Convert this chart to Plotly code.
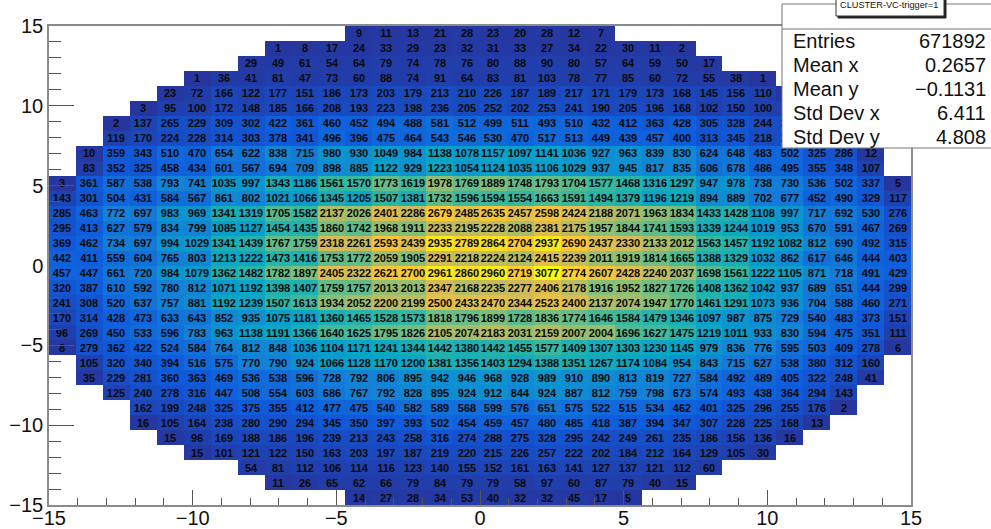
import numpy as np
import plotly.graph_objects as go

N_BINS = 32
AXIS_MIN, AXIS_MAX = -15.0, 15.0

# Each row listed top to bottom: first occupied column, then cell counts.
ROW_STARTS = [11, 8, 7, 5, 4, 3, 2, 2, 1, 1, 0, 0, 0, 0, 0, 0, 0, 0, 0, 0, 0, 0, 1, 1, 2, 3, 3, 4, 5, 7, 8, 11]

ROW_00 = [9, 11, 13, 21, 28, 23, 20, 28, 12, 7]
ROW_01 = [1, 8, 17, 24, 33, 29, 23, 32, 31, 33, 27, 34, 22, 30, 11, 2]
ROW_02 = [29, 49, 61, 54, 64, 79, 74, 78, 76, 80, 88, 90, 80, 57, 64, 59, 50, 17]
ROW_03 = [1, 36, 41, 81, 47, 73, 60, 88, 74, 91, 64, 83, 81, 103, 78, 77, 85, 60, 72, 55, 38, 1]
# the last cells of rows 4-7 sit behind the statistics box: estimated
ROW_04 = [23, 72, 166, 122, 177, 151, 186, 173, 203, 179, 213, 210, 226, 187, 189, 217, 171, 179, 173, 168, 145, 156, 110, 20]
ROW_05 = [3, 95, 100, 172, 148, 185, 166, 208, 193, 223, 198, 236, 205, 252, 202, 253, 241, 190, 205, 196, 168, 102, 150, 100, 90, 3]
ROW_06 = [2, 137, 265, 229, 309, 302, 422, 361, 460, 452, 494, 488, 581, 512, 499, 511, 493, 510, 432, 412, 363, 428, 305, 328, 244, 230, 130, 2]
ROW_07 = [119, 170, 224, 228, 314, 303, 378, 341, 496, 396, 475, 464, 543, 546, 530, 470, 517, 513, 449, 439, 457, 400, 313, 345, 218, 240, 120, 100]
ROW_08 = [10, 359, 343, 510, 470, 654, 622, 838, 715, 980, 930, 1049, 984, 1138, 1078, 1157, 1097, 1141, 1036, 927, 963, 839, 830, 624, 648, 483, 502, 325, 286, 12]
ROW_09 = [83, 352, 325, 458, 434, 601, 567, 694, 709, 898, 885, 1122, 929, 1223, 1054, 1124, 1035, 1106, 1029, 937, 945, 817, 835, 606, 678, 486, 495, 355, 348, 107]
ROW_10 = [3, 361, 587, 538, 793, 741, 1035, 997, 1343, 1186, 1561, 1570, 1773, 1619, 1978, 1769, 1889, 1748, 1793, 1704, 1577, 1468, 1316, 1297, 947, 978, 738, 730, 536, 502, 337, 5]
ROW_11 = [143, 301, 504, 431, 584, 567, 861, 802, 1021, 1066, 1345, 1205, 1507, 1381, 1732, 1596, 1594, 1554, 1663, 1591, 1494, 1379, 1196, 1219, 894, 889, 702, 677, 452, 490, 329, 117]
ROW_12 = [285, 463, 772, 697, 983, 969, 1341, 1319, 1705, 1582, 2137, 2026, 2401, 2286, 2679, 2485, 2635, 2457, 2598, 2424, 2188, 2071, 1963, 1834, 1433, 1428, 1108, 997, 717, 692, 530, 276]
ROW_13 = [295, 413, 627, 579, 834, 799, 1085, 1127, 1454, 1435, 1860, 1742, 1968, 1911, 2233, 2195, 2228, 2088, 2381, 2175, 1957, 1844, 1741, 1593, 1339, 1244, 1019, 953, 670, 591, 467, 269]
ROW_14 = [369, 462, 734, 697, 994, 1029, 1341, 1439, 1767, 1759, 2318, 2261, 2593, 2439, 2935, 2789, 2864, 2704, 2937, 2690, 2437, 2330, 2133, 2012, 1563, 1457, 1192, 1082, 812, 690, 492, 315]
ROW_15 = [442, 411, 559, 604, 765, 803, 1213, 1222, 1473, 1416, 1753, 1772, 2059, 1905, 2291, 2218, 2224, 2124, 2415, 2239, 2011, 1919, 1814, 1665, 1388, 1329, 1032, 862, 617, 646, 444, 403]
ROW_16 = [457, 447, 661, 720, 984, 1079, 1362, 1482, 1782, 1897, 2405, 2322, 2621, 2700, 2961, 2860, 2960, 2719, 3077, 2774, 2607, 2428, 2240, 2037, 1698, 1561, 1222, 1105, 871, 718, 491, 429]
ROW_17 = [320, 387, 610, 592, 780, 812, 1071, 1192, 1398, 1407, 1759, 1757, 2013, 2013, 2347, 2168, 2235, 2277, 2406, 2178, 1916, 1952, 1827, 1726, 1408, 1362, 1042, 937, 689, 651, 444, 299]
ROW_18 = [241, 308, 520, 637, 757, 881, 1192, 1239, 1507, 1613, 1934, 2052, 2200, 2199, 2500, 2433, 2470, 2344, 2523, 2400, 2137, 2074, 1947, 1770, 1461, 1291, 1073, 936, 704, 588, 460, 271]
ROW_19 = [170, 314, 428, 473, 633, 643, 852, 935, 1075, 1181, 1360, 1465, 1528, 1573, 1818, 1796, 1899, 1728, 1836, 1774, 1646, 1584, 1479, 1346, 1097, 987, 875, 729, 540, 483, 373, 151]
ROW_20 = [96, 269, 450, 533, 596, 783, 963, 1138, 1191, 1366, 1640, 1625, 1795, 1826, 2105, 2074, 2183, 2031, 2159, 2007, 2004, 1696, 1627, 1475, 1219, 1011, 933, 830, 594, 475, 351, 111]
ROW_21 = [8, 279, 362, 422, 524, 584, 764, 812, 848, 1036, 1104, 1171, 1241, 1344, 1442, 1380, 1442, 1455, 1577, 1409, 1307, 1303, 1230, 1145, 979, 836, 776, 595, 503, 409, 278, 6]
ROW_22 = [105, 320, 340, 394, 516, 575, 770, 790, 924, 1066, 1128, 1170, 1200, 1381, 1356, 1403, 1294, 1388, 1351, 1267, 1174, 1084, 954, 843, 715, 627, 538, 380, 312, 160]
ROW_23 = [35, 229, 281, 360, 363, 469, 536, 538, 596, 728, 792, 806, 895, 942, 946, 968, 928, 989, 910, 890, 813, 819, 727, 584, 492, 489, 405, 322, 248, 41]
ROW_24 = [125, 240, 278, 316, 447, 508, 554, 603, 686, 767, 792, 828, 895, 924, 912, 844, 924, 887, 812, 759, 798, 673, 574, 493, 438, 364, 294, 143]
ROW_25 = [162, 199, 248, 325, 375, 355, 412, 477, 475, 540, 582, 589, 568, 599, 576, 651, 575, 522, 515, 534, 462, 401, 325, 296, 255, 176, 2]
ROW_26 = [16, 105, 164, 238, 280, 290, 294, 345, 350, 397, 393, 502, 454, 459, 457, 480, 485, 418, 387, 394, 347, 307, 228, 225, 168, 13]
ROW_27 = [15, 96, 169, 188, 186, 196, 239, 213, 243, 258, 316, 274, 288, 275, 328, 295, 242, 249, 261, 235, 186, 156, 136, 16]
ROW_28 = [15, 101, 121, 122, 150, 163, 203, 197, 187, 219, 220, 215, 226, 257, 222, 202, 184, 212, 164, 129, 105, 30]
ROW_29 = [54, 81, 112, 106, 114, 116, 123, 140, 155, 152, 161, 163, 141, 127, 137, 121, 112, 60]
ROW_30 = [11, 26, 65, 62, 66, 79, 84, 79, 79, 58, 97, 60, 87, 79, 40, 15]
ROW_31 = [14, 27, 28, 34, 53, 40, 32, 32, 45, 17, 5]

ROWS = [ROW_00, ROW_01, ROW_02, ROW_03, ROW_04, ROW_05, ROW_06, ROW_07,
        ROW_08, ROW_09, ROW_10, ROW_11, ROW_12, ROW_13, ROW_14, ROW_15,
        ROW_16, ROW_17, ROW_18, ROW_19, ROW_20, ROW_21, ROW_22, ROW_23,
        ROW_24, ROW_25, ROW_26, ROW_27, ROW_28, ROW_29, ROW_30, ROW_31]

STAT_NAMES = ["Entries", "Mean x", "Mean y", "Std Dev x", "Std Dev y"]
STAT_VALUES = ["671892", "0.2657", "\u22120.1131", "6.411", "4.808"]
STAT_TITLE = "CLUSTER-VC-trigger=1"

# ROOT kBird-like palette, low end adjusted to the blue seen in the picture
BIRD_R = [0.1500, 0.0592, 0.0780, 0.0232, 0.1802, 0.5301, 0.8186, 0.9956, 0.9764]
BIRD_G = [0.2100, 0.3599, 0.5041, 0.6419, 0.7178, 0.7492, 0.7328, 0.7862, 0.9832]
BIRD_B = [0.6200, 0.8684, 0.8385, 0.7914, 0.6425, 0.4662, 0.3499, 0.1968, 0.0539]
colorscale = [[i / 8, f"rgb({r*255:.0f},{g*255:.0f},{b*255:.0f})"]
              for i, (r, g, b) in enumerate(zip(BIRD_R, BIRD_G, BIRD_B))]

grid = np.full((N_BINS, N_BINS), np.nan)
for r, (start, row) in enumerate(zip(ROW_STARTS, ROWS)):
    grid[N_BINS - 1 - r, start:start + len(row)] = row

dx = (AXIS_MAX - AXIS_MIN) / N_BINS
fig = go.Figure(go.Heatmap(
    z=grid, x0=AXIS_MIN + dx / 2, dx=dx, y0=AXIS_MIN + dx / 2, dy=dx,
    colorscale=colorscale, zmin=0, zmax=3077, showscale=False,
    texttemplate="%{z}", hoverongaps=False,
    textfont=dict(family="Liberation Sans", size=11, color="#0a0a0a", weight=700),
))

W, H = 991, 529
L, R, T, B = 49, 911, 26, 505


def px(x):
    return (x - L) / (R - L)


def py(y):
    return (B - y) / (B - T)


AX = "#8a8a8a"
TICK_FONT = dict(family="Liberation Sans", size=20, color="#111111")
common = dict(range=[AXIS_MIN, AXIS_MAX], dtick=5, tick0=0, ticks="inside", automargin=False,
              showgrid=False, zeroline=False, showline=True, linecolor=AX,
              linewidth=1.5, mirror=True, tickcolor="#555555", tickwidth=1,
              tickfont=TICK_FONT)
fig.update_xaxes(**common, ticklen=15, ticklabelstandoff=-6,
                 minor=dict(dtick=1, tick0=0, ticks="inside", ticklen=7,
                            tickcolor="#555555", tickwidth=1, showgrid=False))
fig.update_yaxes(**common, ticklen=25,
                 minor=dict(dtick=1, tick0=0, ticks="inside", ticklen=12,
                            tickcolor="#555555", tickwidth=1, showgrid=False))

shapes = [
    dict(type="rect", xref="paper", yref="paper", x0=px(782), x1=px(1000), y0=py(148), y1=py(4),
         fillcolor="white", line=dict(color="#777777", width=1)),
    dict(type="line", xref="paper", yref="paper", x0=px(782), x1=px(1000), y0=py(29), y1=py(29),
         line=dict(color="#777777", width=1)),
    dict(type="rect", xref="paper", yref="paper", x0=px(838), x1=px(946), y0=py(18), y1=py(-4),
         fillcolor="#222222", line=dict(color="#222222", width=1)),
    dict(type="rect", xref="paper", yref="paper", x0=px(836), x1=px(944), y0=py(16), y1=py(-4),
         fillcolor="white", line=dict(color="#333333", width=1)),
]
annotations = [dict(x=px(889), y=py(5), xref="paper", yref="paper", text=STAT_TITLE, showarrow=False,
                    xanchor="center", yanchor="middle",
                    font=dict(family="Liberation Sans", size=9.2, color="#111111"))]
for i, (name, value) in enumerate(zip(STAT_NAMES, STAT_VALUES)):
    yy = py(41 + i * 24)
    annotations.append(dict(x=px(791), y=yy, xref="paper", yref="paper", text=name, showarrow=False,
                            xanchor="left", yanchor="middle",
                            font=dict(family="Liberation Sans", size=20, color="#111111")))
    annotations.append(dict(x=px(988), y=yy, xref="paper", yref="paper", text=value, showarrow=False,
                            xanchor="right", yanchor="middle",
                            font=dict(family="Liberation Sans", size=20, color="#111111")))

fig.update_layout(width=W, height=H, autosize=False,
                  margin=dict(l=L, r=W - R, t=T, b=H - B, pad=0),
                  paper_bgcolor="white", plot_bgcolor="white",
                  shapes=shapes, annotations=annotations)
fig.write_html("out.html", config={"displayModeBar": False},
               post_script="document.body.style.margin='0';document.body.style.overflow='hidden';")
